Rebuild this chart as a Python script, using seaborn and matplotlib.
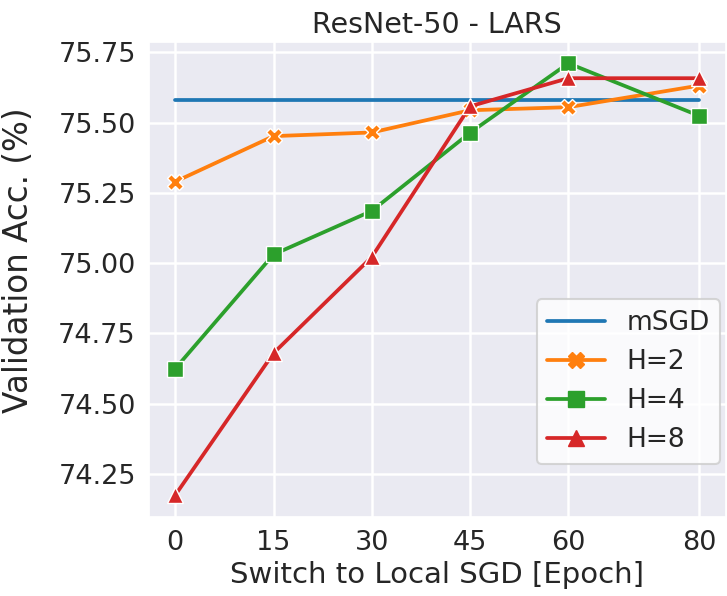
import matplotlib
import matplotlib.pyplot as plt
import pandas as pd
import seaborn as sns

matplotlib.use("Agg")

# ---------------------------------------------------
# Data
# ---------------------------------------------------
EPOCHS = [0, 15, 30, 45, 60, 80]
MSGD = [75.58, 75.58, 75.58, 75.58, 75.58, 75.58]
H2 = [75.29, 75.452, 75.465, 75.544, 75.555, 75.632]
H4 = [74.625, 75.031, 75.186, 75.464, 75.711, 75.524]
H8 = [74.175, 74.68, 75.022, 75.558, 75.658, 75.658]

SERIES = ["mSGD", "H=2", "H=4", "H=8"]
MARKERS = [None, "X", "s", "^"]
COLORS = ["#1f77b4", "#ff7f0e", "#2ca02c", "#d62728"]

X_TICKS = [0, 15, 30, 45, 60, 80]
Y_TICKS = [74.25, 74.50, 74.75, 75.00, 75.25, 75.50, 75.75]

sns.set_theme(style="darkgrid", rc={"grid.linewidth": 1.8})

df = pd.DataFrame(
    {
        "epoch": EPOCHS * 4,
        "acc": MSGD + H2 + H4 + H8,
        "series": [s for s in SERIES for _ in EPOCHS],
    }
)

fig, ax = plt.subplots(figsize=(7.27, 5.96), dpi=100)

for name, marker, color in zip(SERIES, MARKERS, COLORS):
    sub = df[df["series"] == name]
    sns.lineplot(
        data=sub,
        x="epoch",
        y="acc",
        ax=ax,
        color=color,
        label=name,
        marker=marker,
        markersize=11,
        markeredgecolor="white",
        markeredgewidth=1,
        linewidth=2.7,
    )

ax.set_xticks(X_TICKS)
ax.set_yticks(Y_TICKS)
ax.set_yticklabels([f"{v:.2f}" for v in Y_TICKS])
ax.tick_params(axis="both", labelsize=19.5, colors="#262626")
ax.set_xlabel("Switch to Local SGD [Epoch]", fontsize=21, color="#262626")
ax.set_ylabel("Validation Acc. (%)", fontsize=23.5, color="#262626")
ax.yaxis.set_label_coords(-0.198, 0.54)
ax.set_title("ResNet-50 - LARS", fontsize=20.5, color="#262626")

leg = ax.legend(
    loc="lower right",
    bbox_to_anchor=(1.0, 0.1),
    fontsize=19,
    frameon=True,
    borderaxespad=0.2,
    handlelength=2.2,
)
frame = leg.get_frame()
frame.set_facecolor("white")
frame.set_edgecolor("#cccccc")
frame.set_linewidth(1.5)
for line in leg.get_lines():
    line.set_linewidth(2.7)
    line.set_markeredgecolor(line.get_color())

plt.subplots_adjust(left=0.205, right=0.998, top=0.93, bottom=0.133)
plt.savefig("out.png", dpi=100)
plt.close()
